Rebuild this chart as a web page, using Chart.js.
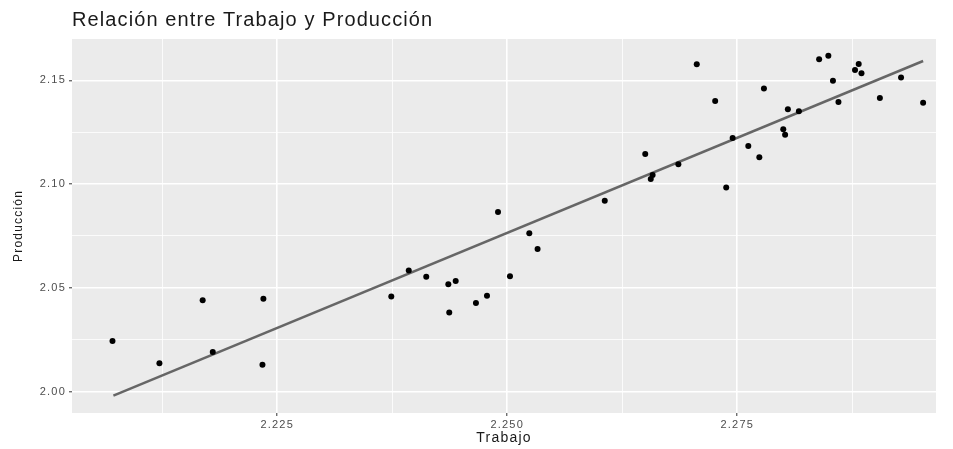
<!DOCTYPE html>
<html>
<head>
<meta charset="utf-8">
<script src="https://cdn.jsdelivr.net/npm/chart.js@4"></script>
<style>
  html, body { margin: 0; padding: 0; background: #fff; }
  #wrap { width: 953px; height: 449px; }
</style>
</head>
<body>
<div id="wrap"><canvas id="grafico" width="953" height="449"></canvas></div>
<script>
// datos
const trabajo = [
  2.2071, 2.2122, 2.2169, 2.2180, 2.2235, 2.2234, 2.2374, 2.2393, 2.2412, 2.2436,
  2.2444, 2.2437, 2.2466, 2.2478, 2.2490, 2.2503, 2.2524, 2.2533, 2.2606, 2.2650,
  2.2656, 2.2658, 2.2686, 2.2706, 2.2726, 2.2738, 2.2745, 2.2762, 2.2774, 2.2779,
  2.2800, 2.2802, 2.2805, 2.2817, 2.2839, 2.2849, 2.2854, 2.2860, 2.2878, 2.2882,
  2.2885, 2.2905, 2.2928, 2.2952
];
const produccion = [
  2.0244, 2.0137, 2.0440, 2.0191, 2.0448, 2.0129, 2.0458, 2.0583, 2.0554, 2.0517,
  2.0533, 2.0381, 2.0427, 2.0462, 2.0866, 2.0556, 2.0763, 2.0687, 2.0920, 2.1145,
  2.1025, 2.1044, 2.1095, 2.1577, 2.1400, 2.0983, 2.1222, 2.1184, 2.1129, 2.1461,
  2.1264, 2.1238, 2.1360, 2.1351, 2.1601, 2.1618, 2.1498, 2.1395, 2.1550, 2.1578,
  2.1534, 2.1415, 2.1514, 2.1392
];
// recta de regresión (extremos)
const rectaX = [2.2072, 2.2952];
const rectaY = [1.9981, 2.1593];

const ticksX = [2.2125, 2.225, 2.2375, 2.25, 2.2625, 2.275, 2.2875];
const mayoresX = [2.225, 2.25, 2.275];
const ticksY = [2.00, 2.025, 2.05, 2.075, 2.10, 2.125, 2.15];
const mayoresY = [2.00, 2.05, 2.10, 2.15];

const fuente = "'Liberation Sans', Arial, Helvetica, sans-serif";

function esMayor(lista, v) {
  return lista.some(m => Math.abs(m - v) < 1e-6);
}

// fondo gris del panel + título
const panelGris = {
  id: 'panelGris',
  beforeDraw(chart) {
    const { ctx, chartArea: a } = chart;
    ctx.fillStyle = '#EBEBEB';
    ctx.fillRect(a.left, a.top, a.right - a.left, a.bottom - a.top);
    // el texto del original sale algo ensanchado
    ctx.letterSpacing = '1.2px';
  },
  afterDraw(chart) {
    const { ctx, chartArea: a } = chart;
    ctx.save();
    ctx.letterSpacing = '1.1px';
    ctx.fillStyle = '#1a1a1a';
    ctx.font = "20px " + fuente;
    ctx.textBaseline = 'middle';
    ctx.fillText('Relación entre Trabajo y Producción', a.left, 20);
    ctx.restore();
  }
};

const puntos = trabajo.map((x, i) => ({ x: x, y: produccion[i] }));
const recta = rectaX.map((x, i) => ({ x: x, y: rectaY[i] }));

new Chart(document.getElementById('grafico'), {
  type: 'scatter',
  data: {
    datasets: [
      {
        type: 'line',
        data: recta,
        borderColor: '#666666',
        borderWidth: 2.5,
        pointRadius: 0,
        fill: false,
        order: 2
      },
      {
        data: puntos,
        backgroundColor: '#000000',
        borderColor: '#000000',
        pointRadius: 3,
        pointBorderWidth: 0,
        order: 1
      }
    ]
  },
  options: {
    responsive: false,
    animation: false,
    devicePixelRatio: 1,
    layout: { padding: { top: 39, right: 17, left: 0, bottom: 0 } },
    plugins: { legend: { display: false }, tooltip: { enabled: false } },
    scales: {
      x: {
        type: 'linear',
        min: 2.2027,
        max: 2.2966,
        afterBuildTicks(scale) { scale.ticks = ticksX.map(v => ({ value: v })); },
        afterFit(scale) { scale.height = 36; },
        border: { display: false },
        grid: {
          color: '#ffffff',
          lineWidth: c => esMayor(mayoresX, c.tick.value) ? 1.6 : 0.8,
          tickColor: c => esMayor(mayoresX, c.tick.value) ? '#333333' : 'rgba(0,0,0,0)',
          tickLength: 3,
          tickWidth: 1
        },
        ticks: {
          autoSkip: false,
          maxRotation: 0,
          padding: 2,
          color: '#4d4d4d',
          font: { family: fuente, size: 11 },
          callback: v => esMayor(mayoresX, v) ? v.toFixed(3) : ''
        },
        title: {
          display: true,
          text: 'Trabajo',
          color: '#1a1a1a',
          font: { family: fuente, size: 14 },
          padding: { top: 0, bottom: 2 }
        }
      },
      y: {
        type: 'linear',
        min: 1.9897,
        max: 2.1699,
        afterBuildTicks(scale) { scale.ticks = ticksY.map(v => ({ value: v })); },
        afterFit(scale) { scale.width = 72; },
        border: { display: false },
        grid: {
          color: '#ffffff',
          lineWidth: c => esMayor(mayoresY, c.tick.value) ? 1.6 : 0.8,
          tickColor: c => esMayor(mayoresY, c.tick.value) ? '#333333' : 'rgba(0,0,0,0)',
          tickLength: 3,
          tickWidth: 1
        },
        ticks: {
          autoSkip: false,
          padding: 3,
          color: '#4d4d4d',
          font: { family: fuente, size: 11 },
          callback: v => esMayor(mayoresY, v) ? v.toFixed(2) : ''
        },
        title: {
          display: true,
          text: 'Producción',
          color: '#1a1a1a',
          font: { family: fuente, size: 12 },
          padding: { top: 11, bottom: 0 }
        }
      }
    }
  },
  plugins: [panelGris]
});
</script>
</body>
</html>
